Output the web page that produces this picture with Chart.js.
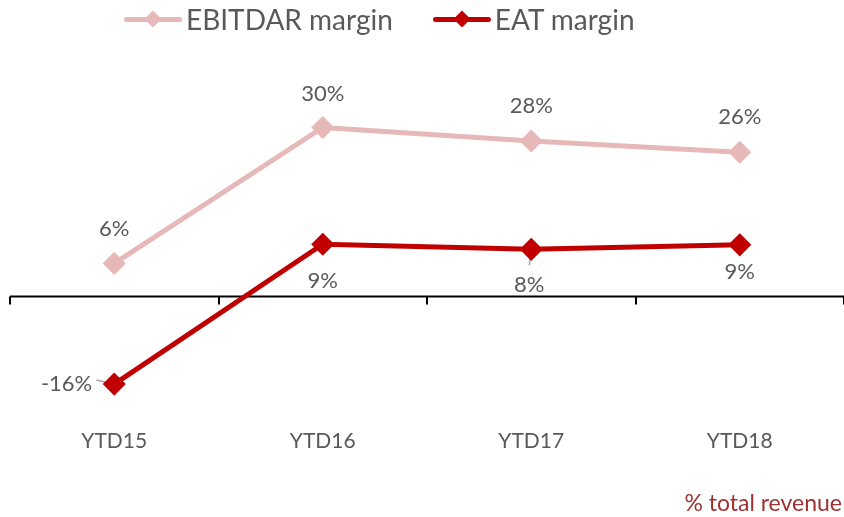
<!DOCTYPE html>
<html lang="en">
<head>
  <meta charset="UTF-8">
  <title>EBITDAR and EAT margin</title>
  <script src="https://cdn.jsdelivr.net/npm/chart.js"></script>
  <style>
    body {
      margin: 0;
      overflow: hidden;
      background: #fff;
      font-family: 'Lato', sans-serif;
    }

    #wrap {
      position: relative;
      width: 844px;
      height: 517px;
    }

    #marginChart {
      position: absolute;
      left: 0;
      top: 0;
    }

    /* legend drawn in HTML: line with a diamond in the middle */
    #legend {
      position: absolute;
      top: 2px;
      left: 124px;
      display: flex;
      align-items: center;
      font-size: 28px;
      color: #595959;
    }

    .item {
      display: flex;
      align-items: center;
      margin-right: 40px;
    }

    .mark {
      position: relative;
      width: 58px;
      height: 5px;
      border-radius: 3px;
      margin-right: 4px;
    }

    .mark::after {
      content: '';
      position: absolute;
      left: 23px;
      top: -4px;
      width: 12px;
      height: 12px;
      background: inherit;
      transform: rotate(45deg);
    }

    #note {
      position: absolute;
      right: 2px;
      top: 488px;
      font-size: 23px;
      color: #9e3131;
    }
  </style>
</head>
<body>

  <div id="wrap">
    <canvas id="marginChart" width="844" height="517"></canvas>
    <div id="legend">
      <div class="item"><span class="mark" style="background:#e6b9b8"></span>EBITDAR margin</div>
      <div class="item"><span class="mark" style="background:#c00000"></span>EAT margin</div>
    </div>
    <div id="note">% total revenue</div>
  </div>

  <script>
    const categories = ['YTD15', 'YTD16', 'YTD17', 'YTD18'];
    const ebitdarMargin = [5.9, 30.1, 27.7, 25.7];
    const eatMargin = [-15.6, 9.3, 8.4, 9.2];

    // zero line + boundary tick marks, like the Excel axis
    const zeroAxis = {
      id: 'zeroAxis',
      beforeDatasetsDraw(chart) {
        const { ctx, chartArea, scales: { x, y } } = chart;
        const y0 = y.getPixelForValue(0);
        ctx.save();
        ctx.strokeStyle = '#000';
        ctx.lineWidth = 2;
        ctx.beginPath();
        ctx.moveTo(chartArea.left, y0);
        ctx.lineTo(chartArea.right, y0);
        for (let i = 0; i <= categories.length; i++) {
          const px = Math.round(x.getPixelForValue(i - 0.5));
          ctx.moveTo(px, y0);
          ctx.lineTo(px, y0 + 8);
        }
        ctx.stroke();
        ctx.restore();
      }
    };

    // percentage labels next to each point (with the odd leader line)
    const valueLabels = {
      id: 'valueLabels',
      beforeDatasetsDraw(chart, args, opts) {
        const { ctx } = chart;
        ctx.save();
        ctx.strokeStyle = '#a6a6a6';
        ctx.lineWidth = 1.5;
        chart.data.datasets.forEach((ds, di) => {
          chart.getDatasetMeta(di).data.forEach((pt, i) => {
            const lead = opts.offsets[di][i].leader;
            if (!lead) return;
            ctx.beginPath();
            ctx.moveTo(pt.x, pt.y);
            ctx.lineTo(pt.x + lead[0], pt.y + lead[1]);
            ctx.stroke();
          });
        });
        ctx.restore();
      },
      afterDatasetsDraw(chart, args, opts) {
        const { ctx } = chart;
        ctx.save();
        ctx.font = '22px Lato';
        ctx.fillStyle = '#595959';
        ctx.textBaseline = 'middle';
        chart.data.datasets.forEach((ds, di) => {
          const meta = chart.getDatasetMeta(di);
          meta.data.forEach((pt, i) => {
            const text = Math.round(ds.data[i]) + '%';
            const off = opts.offsets[di][i];
            ctx.textAlign = off.align || 'center';
            ctx.fillText(text, pt.x + off.dx, pt.y + off.dy);
          });
        });
        ctx.restore();
      }
    };

    const ctx = document.getElementById('marginChart').getContext('2d');

    const chart = new Chart(ctx, {
      type: 'line',
      data: {
        labels: categories,
        datasets: [{
          label: 'EBITDAR margin',
          data: ebitdarMargin,
          borderColor: '#e6b9b8',
          backgroundColor: '#e6b9b8',
          borderWidth: 5,
          pointStyle: 'rectRot',
          pointRadius: 8,
          pointHoverRadius: 8,
          tension: 0,
          clip: false
        }, {
          label: 'EAT margin',
          data: eatMargin,
          borderColor: '#c00000',
          backgroundColor: '#c00000',
          borderWidth: 5,
          pointStyle: 'rectRot',
          pointRadius: 8,
          pointHoverRadius: 8,
          tension: 0,
          clip: false
        }]
      },
      options: {
        responsive: false,
        animation: false,
        layout: {
          autoPadding: false,
          padding: { top: 100, left: 10, right: 0, bottom: 43 }
        },
        plugins: {
          legend: { display: false },
          tooltip: { enabled: false },
          valueLabels: {
            offsets: [
              [{ dx: 0, dy: -34 }, { dx: 0, dy: -34 }, { dx: 0, dy: -35 }, { dx: 0, dy: -35 }],
              [{ dx: -22, dy: 0, align: 'right', leader: [-18, -4] },
               { dx: 0, dy: 37 },
               { dx: -2, dy: 36, leader: [-2, 16] },
               { dx: 0, dy: 27 }]
            ]
          }
        },
        scales: {
          y: {
            display: false,
            min: -20,
            max: 35
          },
          x: {
            offset: true,
            grid: { display: false, drawTicks: false },
            border: { display: false },
            ticks: {
              padding: 20,
              color: '#595959',
              font: { family: 'Lato', size: 21 }
            }
          }
        }
      },
      plugins: [zeroAxis, valueLabels]
    });
  </script>

</body>
</html>
